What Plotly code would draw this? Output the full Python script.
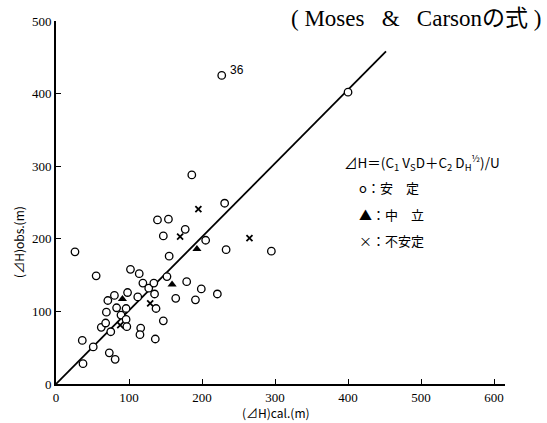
import plotly.graph_objects as go

# Stable (安定) points
stable_x = [26, 55, 36, 37, 51, 62, 68, 69, 71, 80, 83, 75, 73, 81, 89, 96, 96, 97, 98, 102,
            112, 114, 119, 116, 115, 127, 134, 135, 137, 136, 139, 154, 147, 155, 152, 147, 164,
            177, 179, 186, 191, 199, 205, 221, 231, 233, 295, 400, 227]
stable_y = [182, 149, 60, 28, 51, 78, 84, 99, 115, 122, 105, 72, 43, 34, 95, 104, 89, 79, 126, 158,
            120, 152, 139, 77, 68, 132, 139, 124, 104, 62, 226, 227, 204, 176, 148, 87, 118,
            213, 141, 288, 116, 131, 198, 124, 249, 185, 183, 402, 425]
# Neutral (中立)
neutral_x = [91, 159, 193]
neutral_y = [117, 137, 186]
# Unstable (不安定)
unstable_x = [195, 170, 129, 88, 265]
unstable_y = [241, 203, 111, 81, 201]
# Regression line end points
line_x = [0, 452]
line_y = [0, 458]

x_ticks = [0, 100, 200, 300, 400, 500, 600]
y_ticks = [0, 100, 200, 300, 400, 500]

fig = go.Figure()
fig.add_trace(go.Scatter(x=line_x, y=line_y, mode="lines",
                         line=dict(color="black", width=1.8), showlegend=False))
fig.add_trace(go.Scatter(x=stable_x, y=stable_y, mode="markers",
                         marker=dict(symbol="circle", size=7.5, color="white",
                                     line=dict(color="black", width=1.3)), showlegend=False))
fig.add_trace(go.Scatter(x=neutral_x, y=neutral_y, mode="markers",
                         marker=dict(symbol="triangle-up", size=8, color="black"), showlegend=False))
fig.add_trace(go.Scatter(x=unstable_x, y=unstable_y, mode="markers",
                         marker=dict(symbol="x-thin", size=6, color="black",
                                     line=dict(color="black", width=1.8)), showlegend=False))

tick_font = dict(family="Liberation Serif", size=13, color="black")
cjk = "Noto Sans CJK JP"
nb = "\u00a0"

fig.update_layout(
    width=547, height=423,
    margin=dict(l=56, r=42, t=21, b=39),
    paper_bgcolor="white", plot_bgcolor="white",
    xaxis=dict(range=[0, 615], tickvals=x_ticks, ticks="inside", ticklen=5, tickwidth=1.3,
               tickcolor="black", showline=True, linecolor="black", linewidth=1.8,
               showgrid=False, zeroline=False, tickfont=tick_font),
    yaxis=dict(range=[0, 500], tickvals=y_ticks, ticks="inside", ticklen=5, tickwidth=1.3,
               tickcolor="black", showline=True, linecolor="black", linewidth=1.8,
               showgrid=False, zeroline=False, tickfont=tick_font),
    annotations=[
        dict(text="(" + nb + "Moses" + nb * 3 + "&amp;" + nb * 3 + "Carsonの式" + nb + ")",
             xref="paper", yref="paper",
             x=1.085, y=1.008, xanchor="right", yanchor="middle", showarrow=False,
             font=dict(family="Liberation Serif, " + cjk, size=23, color="black")),
        dict(text="36", xref="x", yref="y", x=236, y=432, xanchor="left", yanchor="middle",
             showarrow=False, font=dict(family="Liberation Sans", size=12, color="black")),
        dict(text="⊿H＝(C<sub>1</sub> V<sub>S</sub>D＋C<sub>2</sub> D<sub>H</sub><sup>½</sup>)/U",
             xref="paper", yref="paper", x=0.637, y=0.609, xanchor="left", yanchor="middle",
             showarrow=False, font=dict(family=cjk, size=13.5, color="black")),
        dict(text="o：安　定", xref="paper", yref="paper", x=0.67, y=0.540, xanchor="left",
             yanchor="middle", showarrow=False, font=dict(family=cjk, size=13, color="black")),
        dict(text="▲：中　立", xref="paper", yref="paper", x=0.67, y=0.468, xanchor="left",
             yanchor="middle", showarrow=False, font=dict(family=cjk, size=13, color="black")),
        dict(text="×：不安定", xref="paper", yref="paper", x=0.67, y=0.394, xanchor="left",
             yanchor="middle", showarrow=False, font=dict(family=cjk, size=13, color="black")),
        dict(text="(⊿H)cal.(m)", xref="paper", yref="paper", x=0.49, y=-0.078,
             xanchor="center", yanchor="middle", showarrow=False,
             font=dict(family=cjk, size=12, color="black")),
        dict(text="(⊿H)obs.(m)", xref="paper", yref="paper", x=-0.085, y=0.391,
             xanchor="center", yanchor="middle", textangle=-90, showarrow=False,
             font=dict(family=cjk, size=12, color="black")),
    ],
)

fig.write_html("out.html")
